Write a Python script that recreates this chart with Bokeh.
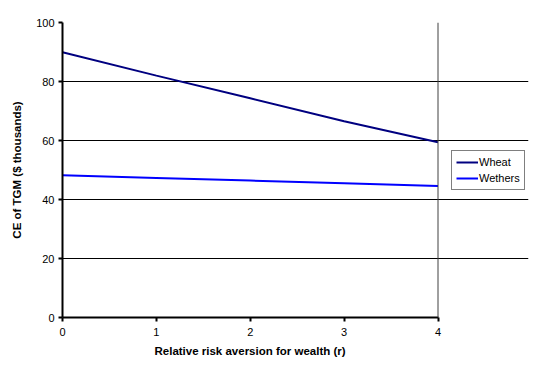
from bokeh.plotting import figure
from bokeh.models import Range1d, Legend, LegendItem, FixedTicker, Span, Title
from bokeh.embed import file_html
from bokeh.resources import INLINE

# Data
r_values = [0, 1, 2, 3, 4]
wheat = [89.9, 82.0, 74.3, 66.5, 59.4]
wethers = [48.2, 47.3, 46.4, 45.5, 44.6]
series_names = ["Wheat", "Wethers"]
x_ticks = [0, 1, 2, 3, 4]
y_ticks = [0, 20, 40, 60, 80, 100]
x_label = "Relative risk aversion for wealth (r)"
y_label = "CE of TGM ($ thousands)"

FONT = "Liberation Sans"

# Frame extends to the right so the legend (outside the plot box) is not clipped
LEFT, RIGHT_BORDER = 62, 5
FRAME_W = 533 - LEFT - RIGHT_BORDER
PX_PER_UNIT = (437.5 - 62) / 4.0
x_end = FRAME_W / PX_PER_UNIT

p = figure(width=533, height=378, output_backend="svg", toolbar_location=None,
           x_range=Range1d(0, x_end), y_range=Range1d(0, 100),
           min_border_left=LEFT, min_border_right=RIGHT_BORDER,
           min_border_top=22, min_border_bottom=61)
p.background_fill_color = "white"
p.border_fill_color = "white"
p.outline_line_color = None

p.xgrid.visible = False
p.ygrid.grid_line_color = "black"
p.ygrid.grid_line_width = 1
p.ygrid.ticker = FixedTicker(ticks=y_ticks)
p.ygrid.bounds = (x_ticks[0], x_ticks[-1])

right_edge = Span(location=x_ticks[-1], dimension="height", line_color="#404040", line_width=1)
p.add_layout(right_edge)

for ax in (p.xaxis[0], p.yaxis[0]):
    ax.axis_line_width = 2
    ax.axis_line_color = "black"
    ax.major_tick_line_color = "black"
    ax.major_tick_line_width = 2
    ax.major_tick_in = 0
    ax.major_tick_out = 4
    ax.minor_tick_line_color = None
    ax.major_label_text_font = FONT
    ax.major_label_text_font_size = "11px"
    ax.major_label_text_color = "black"
    ax.axis_label_text_font = FONT
    ax.axis_label_text_font_size = "11.5px"
    ax.axis_label_text_font_style = "bold"
    ax.axis_label_text_color = "black"

p.xaxis.ticker = FixedTicker(ticks=x_ticks)
p.yaxis.ticker = FixedTicker(ticks=y_ticks)
p.xaxis.bounds = (x_ticks[0], x_ticks[-1])
p.yaxis.axis_label = y_label
p.xaxis.major_label_standoff = 6
p.yaxis.major_label_standoff = 4
p.yaxis.axis_label_standoff = 10

# x-axis title positioned under the plot box (centered on the 0-4 span)
xt = Title(text=x_label, align="left", offset=92, standoff=8,
           text_font=FONT, text_font_size="11.5px", text_font_style="bold",
           text_color="black")
p.add_layout(xt, "below")

l1 = p.line(r_values, wheat, line_color="#000080", line_width=2)
l2 = p.line(r_values, wethers, line_color="#0000FF", line_width=2)

legend = Legend(items=[LegendItem(label=series_names[0], renderers=[l1]),
                       LegendItem(label=series_names[1], renderers=[l2])],
                location=(389, 127))
legend.border_line_color = "black"
legend.border_line_width = 1
legend.background_fill_color = "white"
legend.background_fill_alpha = 1
legend.label_text_font = FONT
legend.label_text_font_size = "11px"
legend.label_text_color = "black"
legend.glyph_width = 22
legend.glyph_height = 14
legend.label_height = 14
legend.label_standoff = 1
legend.padding = 4
legend.spacing = 2
legend.margin = 0
p.add_layout(legend, "center")

open("out.html", "w").write(file_html(p, INLINE))
